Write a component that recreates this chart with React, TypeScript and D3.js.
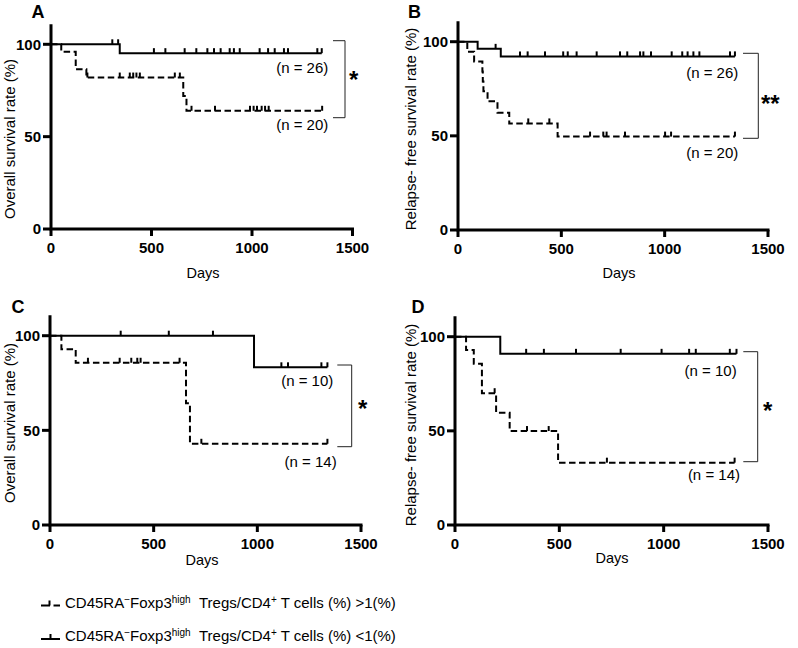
import React from "react";
import * as d3 from "d3";

type Step = [number, number];

// ---------- DATA (days, survival %) ----------
// Panel A: Overall survival, cohort 1
const A_highSteps: Step[] = [[0, 100], [51, 96], [123, 86.5], [176, 82], [658, 72], [674, 64]];
const A_highCensor = [181, 342, 392, 409, 425, 442, 616, 641, 699, 816, 990, 1008, 1025, 1048, 1065, 1083, 1349];
const A_lowSteps: Step[] = [[0, 100], [342, 95.2]];
const A_lowCensor = [305, 334, 512, 569, 665, 723, 778, 811, 844, 889, 910, 939, 1038, 1080, 1113, 1159, 1179, 1325, 1347];

// Panel B: Relapse-free survival, cohort 1
const B_highSteps: Step[] = [[0, 100], [45, 94.7], [78, 89.5], [118, 84.2], [120, 78.9], [123, 73.7], [143, 68.4], [191, 62.3], [248, 56.6], [482, 49.6]];
const B_highCensor = [340, 442, 639, 703, 719, 808, 1002, 1031, 1340];
const B_lowSteps: Step[] = [[0, 100], [95, 96.2], [207, 92.2]];
const B_lowCensor = [182, 300, 337, 421, 509, 531, 574, 671, 784, 819, 881, 897, 934, 1034, 1085, 1111, 1139, 1168, 1316, 1340];

// Panel C: Overall survival, cohort 2
const C_highSteps: Step[] = [[0, 100], [55, 92.9], [124, 85.7], [656, 64.3], [675, 42.9]];
const C_highCensor = [183, 336, 392, 421, 437, 625, 730, 1338];
const C_lowSteps: Step[] = [[0, 100], [984, 83.3]];
const C_lowCensor = [341, 573, 786, 1116, 1148, 1309, 1338];

// Panel D: Relapse-free survival, cohort 2
const D_highSteps: Step[] = [[0, 100], [53, 92.9], [90, 85.7], [129, 70], [197, 59.6], [262, 49.9], [494, 33.1]];
const D_highCensor = [190, 345, 449, 728, 1340];
const D_lowSteps: Step[] = [[0, 100], [217, 90.9]];
const D_lowCensor = [341, 426, 580, 794, 990, 1122, 1154, 1317, 1349];

const xTicks = [0, 500, 1000, 1500];
const yTicks = [0, 50, 100];
const panelLetters = ["A", "B", "C", "D"];
const yTitles = ["Overall survival rate (%)", "Relapse- free survival rate (%)", "Overall survival rate (%)", "Relapse- free survival rate (%)"];
const nHigh = ["(n = 20)", "(n = 20)", "(n = 14)", "(n = 14)"];
const nLow = ["(n = 26)", "(n = 26)", "(n = 10)", "(n = 10)"];
const stars = ["*", "**", "*", "*"];

const FONT = "Arial, 'Liberation Sans', Helvetica, sans-serif";

// ---------- LAYOUT ----------
const layouts = [
  { x0: 51, x1: 352.5, y0: 229, y100: 44.3, letter: [31.5, 18.3], ytitle: [14.5, 139], days: [203, 277.7],
    nLowPos: [328.3, 73], nHighPos: [328.3, 130], bracket: [333, 345, 40.7, 117.7], star: [349, 88] },
  { x0: 458, x1: 768, y0: 230, y100: 41.7, letter: [408, 18.3], ytitle: [416, 129], days: [619, 277.7],
    nLowPos: [738.3, 78.3], nHighPos: [738.3, 158.3], bracket: [743, 758.3, 53.3, 138.3], star: [761, 112] },
  { x0: 50, x1: 361, y0: 525, y100: 335.7, letter: [11.5, 313.3], ytitle: [14.5, 423], days: [202, 564.5],
    nLowPos: [333.3, 385.7], nHighPos: [336.7, 467.3], bracket: [337.3, 351.7, 365, 446.7], star: [358, 417] },
  { x0: 455, x1: 768, y0: 525, y100: 336.7, letter: [411.5, 313.3], ytitle: [416, 425], days: [612, 563],
    nLowPos: [736.7, 375.7], nHighPos: [740, 480], bracket: [743.3, 757.7, 351.7, 461.7], star: [763, 419] },
];

const panelsData = [
  { high: A_highSteps, highC: A_highCensor, low: A_lowSteps, lowC: A_lowCensor },
  { high: B_highSteps, highC: B_highCensor, low: B_lowSteps, lowC: B_lowCensor },
  { high: C_highSteps, highC: C_highCensor, low: C_lowSteps, lowC: C_lowCensor },
  { high: D_highSteps, highC: D_highCensor, low: D_lowSteps, lowC: D_lowCensor },
];

function valueAt(steps: Step[], d: number) {
  let v = steps[0][1];
  for (const [t, p] of steps) if (t <= d) v = p;
  return v;
}

function Curve({ steps, censor, xs, ys, dashed }: any) {
  const end = Math.max(...censor);
  const pts: Step[] = [...steps, [end, steps[steps.length - 1][1]]];
  const line = d3.line<Step>().x((d) => xs(d[0])).y((d) => ys(d[1])).curve(d3.curveStepAfter);
  return (
    <g>
      <path d={line(pts) || ""} fill="none" stroke="#000" strokeWidth={2}
        strokeDasharray={dashed ? "6.5 3.5" : undefined} />
      {censor.map((c: number, i: number) => {
        const y = ys(valueAt(steps, c));
        return <line key={i} x1={xs(c)} x2={xs(c)} y1={y} y2={y - 5} stroke="#000" strokeWidth={2} />;
      })}
    </g>
  );
}

function Panel({ idx }: { idx: number }) {
  const L = layouts[idx];
  const D = panelsData[idx];
  const xs = d3.scaleLinear().domain([0, 1500]).range([L.x0, L.x1]);
  const ys = d3.scaleLinear().domain([0, 100]).range([L.y0, L.y100]);
  const [bx0, bx1, by0, by1] = L.bracket;
  return (
    <g fontFamily={FONT}>
      <text x={L.letter[0]} y={L.letter[1]} fontSize={18} fontWeight="bold">{panelLetters[idx]}</text>
      <text transform={`translate(${L.ytitle[0]},${L.ytitle[1]}) rotate(-90)`} textAnchor="middle" fontSize={15}>{yTitles[idx]}</text>
      <text x={L.days[0]} y={L.days[1]} textAnchor="middle" fontSize={14.5}>Days</text>
      {/* curves */}
      <Curve steps={D.low} censor={D.lowC} xs={xs} ys={ys} dashed={false} />
      <Curve steps={D.high} censor={D.highC} xs={xs} ys={ys} dashed={true} />
      {/* axes */}
      <path d={`M${xs(0)},${ys(110)}V${ys(0)}H${xs(1500)}`} fill="none" stroke="#000" strokeWidth={3} strokeLinecap="square" />
      {yTicks.map((t) => (
        <g key={"y" + t}>
          <line x1={xs(0) - 8} x2={xs(0)} y1={ys(t)} y2={ys(t)} stroke="#000" strokeWidth={3} />
          <text x={xs(0) - 10} y={ys(t) + 5.3} textAnchor="end" fontSize={15} fontWeight="bold">{t}</text>
        </g>
      ))}
      {xTicks.map((t) => (
        <g key={"x" + t}>
          <line x1={xs(t)} x2={xs(t)} y1={ys(0)} y2={ys(0) + 7} stroke="#000" strokeWidth={3} />
          <text x={xs(t)} y={ys(0) + 23.5} textAnchor="middle" fontSize={15} fontWeight="bold">{t}</text>
        </g>
      ))}
      {/* n labels */}
      <text x={L.nLowPos[0]} y={L.nLowPos[1]} textAnchor="end" fontSize={15}>{nLow[idx]}</text>
      <text x={L.nHighPos[0]} y={L.nHighPos[1]} textAnchor="end" fontSize={15}>{nHigh[idx]}</text>
      {/* bracket */}
      <path d={`M${bx0},${by0}H${bx1}V${by1}H${bx0}`} fill="none" stroke="#222" strokeWidth={1} />
      <text x={L.star[0]} y={L.star[1]} fontSize={24} fontWeight="bold">{stars[idx]}</text>
    </g>
  );
}

const legendItems = [">1(%)", "<1(%)"];

function Legend() {
  const rows = [
    { y: 605.5, tb: 607.7, dashed: true },
    { y: 639, tb: 641, dashed: false },
  ];
  return (
    <g fontFamily={FONT} fontSize={15}>
      {rows.map((r, i) => (
        <g key={i}>
          {r.dashed ? (
            <g>
              <line x1={41} x2={50} y1={r.y} y2={r.y} stroke="#000" strokeWidth={2} />
              <line x1={49.5} x2={49.5} y1={r.y} y2={r.y - 5} stroke="#000" strokeWidth={2} />
              <line x1={53.5} x2={60} y1={r.y} y2={r.y} stroke="#000" strokeWidth={2} />
            </g>
          ) : (
            <g>
              <line x1={41} x2={60} y1={r.y} y2={r.y} stroke="#000" strokeWidth={2} />
              <line x1={50.5} x2={50.5} y1={r.y} y2={r.y - 5} stroke="#000" strokeWidth={2} />
            </g>
          )}
          <text x={65} y={r.tb}>
            <tspan>CD45RA</tspan>
            <tspan fontSize={10} dy={-5}>−</tspan>
            <tspan dy={5}>Foxp3</tspan>
            <tspan fontSize={10} dy={-5}>high</tspan>
            <tspan dy={5}>{"\u00a0\u00a0Tregs/CD4"}</tspan>
            <tspan fontSize={10} dy={-5}>+</tspan>
            <tspan dy={5}>{" T cells (%) " + legendItems[i]}</tspan>
          </text>
        </g>
      ))}
    </g>
  );
}

export default function App() {
  return (
    <svg width={798} height={648} style={{ position: "absolute", left: 0, top: 0, background: "#fff" }}>
      <rect width={798} height={648} fill="#fff" />
      {[0, 1, 2, 3].map((i) => <Panel key={i} idx={i} />)}
      <Legend />
    </svg>
  );
}
